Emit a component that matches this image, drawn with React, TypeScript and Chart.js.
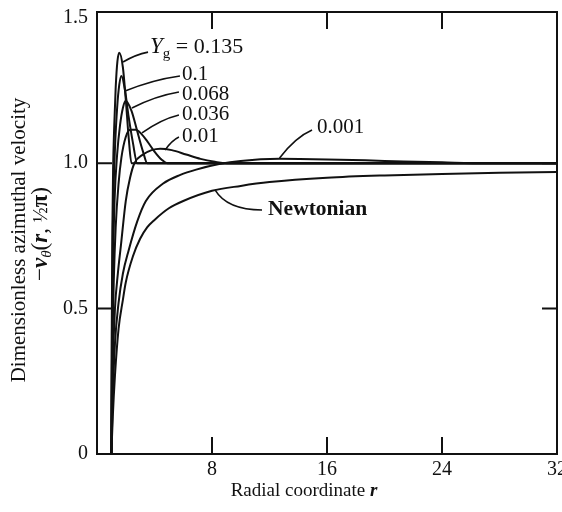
import React, { useEffect, useRef } from "react";
import { Chart, registerables } from "chart.js";

Chart.register(...registerables);

// ---- data ----
const X_TICKS = [8, 16, 24, 32];
const Y_TICKS = [0, 0.5, 1.0, 1.5];

const R_YG_0135 = [1, 1.03, 1.07, 1.12, 1.2, 1.3, 1.42, 1.55, 1.8, 2.0, 2.2, 2.4, 32];
const V_YG_0135 = [0, 0.45, 0.78, 0.98, 1.13, 1.26, 1.35, 1.38, 1.33, 1.22, 1.09, 1.0, 1.0];

const R_YG_01 = [1, 1.04, 1.09, 1.16, 1.25, 1.4, 1.55, 1.7, 1.95, 2.2, 2.5, 2.8, 32];
const V_YG_01 = [0, 0.42, 0.72, 0.92, 1.05, 1.19, 1.27, 1.3, 1.25, 1.16, 1.07, 1.0, 1.0];

const R_YG_0068 = [1, 1.05, 1.12, 1.22, 1.4, 1.6, 1.8, 2.0, 2.4, 2.8, 3.2, 3.5, 32];
const V_YG_0068 = [0, 0.38, 0.66, 0.87, 1.03, 1.13, 1.19, 1.215, 1.18, 1.11, 1.04, 1.0, 1.0];

const R_YG_0036 = [1, 1.07, 1.17, 1.3, 1.5, 1.7, 2.0, 2.3, 2.7, 3.1, 3.5, 4.0, 4.5, 4.9, 32];
const V_YG_0036 = [0, 0.35, 0.6, 0.78, 0.93, 1.02, 1.09, 1.115, 1.115, 1.1, 1.075, 1.04, 1.012, 1.0, 1.0];

const R_YG_001 = [1, 1.1, 1.25, 1.45, 1.67, 2.0, 2.3, 2.6, 3.2, 3.8, 4.4, 5.2, 6.2, 7.2, 8.2, 9, 32];
const V_YG_001 = [0, 0.3, 0.5, 0.62, 0.72, 0.87, 0.95, 1.0, 1.03, 1.045, 1.05, 1.045, 1.03, 1.015, 1.005, 1.0, 1.0];

const R_YG_0001 = [1, 1.1, 1.25, 1.5, 1.8, 2.2, 2.8, 3.4, 4.6, 5.8, 6.9, 8.5, 10, 12.7, 16, 20, 24, 27, 32];
const V_YG_0001 = [0, 0.2, 0.38, 0.52, 0.62, 0.7, 0.8, 0.87, 0.93, 0.96, 0.978, 0.997, 1.008, 1.015, 1.013, 1.008, 1.003, 1.0, 1.0];

const R_NEWTONIAN = [1, 1.1, 1.25, 1.5, 1.8, 2, 2.5, 3, 3.5, 4, 5, 6, 8, 10, 12, 16, 20, 24, 28, 32];
const V_NEWTONIAN = [0, 0.13, 0.27, 0.43, 0.53, 0.59, 0.68, 0.74, 0.78, 0.805, 0.845, 0.87, 0.905, 0.922, 0.935, 0.95, 0.958, 0.963, 0.967, 0.97];

const SERIES_NAMES = ["Yg = 0.135", "0.1", "0.068", "0.036", "0.01", "0.001", "Newtonian"];
const SERIES_R = [R_YG_0135, R_YG_01, R_YG_0068, R_YG_0036, R_YG_001, R_YG_0001, R_NEWTONIAN];
const SERIES_V = [V_YG_0135, V_YG_01, V_YG_0068, V_YG_0036, V_YG_001, V_YG_0001, V_NEWTONIAN];

// label annotations: curve anchor (r, v), leader end (r, v), text position (r, v baseline)
const LABEL_TEXT = ["0.135", "0.1", "0.068", "0.036", "0.01", "0.001", "Newtonian"];
const LABEL_ANCHOR: [number, number][] = [[1.81, 1.348], [1.95, 1.248], [2.43, 1.19], [3.13, 1.104], [4.73, 1.045], [12.7, 1.018], [8.21, 0.908]];
const LABEL_END: [number, number][] = [[3.55, 1.382], [5.77, 1.3], [5.7, 1.245], [5.7, 1.166], [5.7, 1.09], [14.96, 1.114], [11.48, 0.839]];
const LABEL_POS: [number, number][] = [[3.69, 1.379], [5.91, 1.286], [5.91, 1.217], [5.91, 1.149], [5.91, 1.073], [15.3, 1.104], [11.9, 0.822]];

const SERIF = "'Liberation Serif', 'Times New Roman', serif";

type Seg = { t: string; font: string; dy?: number };

function drawSegs(ctx: CanvasRenderingContext2D, segs: Seg[], x: number, y: number, align: "left" | "center") {
  let w = 0;
  for (const s of segs) {
    ctx.font = s.font;
    w += ctx.measureText(s.t).width;
  }
  let cx = align === "center" ? x - w / 2 : x;
  ctx.textAlign = "left";
  ctx.textBaseline = "alphabetic";
  for (const s of segs) {
    ctx.font = s.font;
    ctx.fillText(s.t, cx, y + (s.dy || 0));
    cx += ctx.measureText(s.t).width;
  }
}

const framePlugin = {
  id: "frame",
  afterDraw(chart: any) {
    const { ctx, chartArea, scales } = chart;
    const xs = scales.x;
    const ys = scales.y;
    const { left, right, top, bottom } = chartArea;
    ctx.save();
    ctx.strokeStyle = "#111";
    ctx.fillStyle = "#111";
    ctx.lineWidth = 2;
    ctx.strokeRect(left, top, right - left, bottom - top);

    // inward ticks
    ctx.beginPath();
    for (const v of X_TICKS.slice(0, 3)) {
      const px = xs.getPixelForValue(v);
      ctx.moveTo(px, bottom);
      ctx.lineTo(px, bottom - 17);
      ctx.moveTo(px, top);
      ctx.lineTo(px, top + 17);
    }
    for (const v of Y_TICKS.slice(1, 3)) {
      const py = ys.getPixelForValue(v);
      ctx.moveTo(left, py);
      ctx.lineTo(left + 15, py);
      ctx.moveTo(right, py);
      ctx.lineTo(right - 15, py);
    }
    ctx.stroke();

    // annotations
    ctx.lineWidth = 1.6;
    for (let i = 0; i < LABEL_TEXT.length; i++) {
      const ax = xs.getPixelForValue(LABEL_ANCHOR[i][0]);
      const ay = ys.getPixelForValue(LABEL_ANCHOR[i][1]);
      const ex = xs.getPixelForValue(LABEL_END[i][0]);
      const ey = ys.getPixelForValue(LABEL_END[i][1]);
      ctx.beginPath();
      ctx.moveTo(ax, ay);
      if (i === 6) {
        ctx.quadraticCurveTo(ax + 12, ey, ex, ey);
      } else {
        ctx.quadraticCurveTo((ax + ex) / 2, ey + (ay - ey) * 0.25, ex, ey);
      }
      ctx.stroke();
      const tx = xs.getPixelForValue(LABEL_POS[i][0]);
      const ty = ys.getPixelForValue(LABEL_POS[i][1]);
      if (i === 0) {
        drawSegs(ctx, [
          { t: "Y", font: `italic 23px ${SERIF}` },
          { t: "g", font: `15px ${SERIF}`, dy: 5 },
          { t: " = 0.135", font: `22px ${SERIF}` },
        ], tx, ty, "left");
      } else if (i === 6) {
        drawSegs(ctx, [{ t: LABEL_TEXT[i], font: `bold 21.5px ${SERIF}` }], tx, ty, "left");
      } else {
        drawSegs(ctx, [{ t: LABEL_TEXT[i], font: `21px ${SERIF}` }], tx, ty, "left");
      }
    }

    // x title
    drawSegs(ctx, [
      { t: "Radial coordinate ", font: `19px ${SERIF}` },
      { t: "r", font: `italic bold 19px ${SERIF}` },
    ], (left + right) / 2 - 23, 496, "center");

    // y title (rotated)
    ctx.save();
    ctx.translate(25, 240);
    ctx.rotate(-Math.PI / 2);
    drawSegs(ctx, [{ t: "Dimensionless azimuthal velocity", font: `21px ${SERIF}` }], 0, 0, "center");
    ctx.restore();
    ctx.save();
    ctx.translate(47, 234);
    ctx.rotate(-Math.PI / 2);
    drawSegs(ctx, [
      { t: "\u2212", font: `23px ${SERIF}` },
      { t: "v", font: `italic bold 23px ${SERIF}` },
      { t: "\u03b8", font: `italic 15px ${SERIF}`, dy: 4 },
      { t: "(", font: `23px ${SERIF}` },
      { t: "r", font: `italic bold 23px ${SERIF}` },
      { t: ", ", font: `23px ${SERIF}` },
      { t: "\u00bd", font: `20px ${SERIF}` },
      { t: "\u03c0", font: `bold 23px ${SERIF}` },
      { t: ")", font: `23px ${SERIF}` },
    ], 0, 0, "center");
    ctx.restore();

    ctx.restore();
  },
};

export default function App() {
  const ref = useRef<HTMLCanvasElement | null>(null);

  useEffect(() => {
    document.body.style.margin = "0";
    document.body.style.background = "#fff";
    if (!ref.current) return;
    const datasets = SERIES_NAMES.map((name, i) => ({
      label: name,
      data: SERIES_R[i].map((r, j) => ({ x: r, y: SERIES_V[i][j] })),
      borderColor: "#111",
      borderWidth: 2,
      pointRadius: 0,
      fill: false,
      showLine: true,
      cubicInterpolationMode: "monotone" as const,
    }));
    const chart = new Chart(ref.current, {
      type: "scatter",
      data: { datasets },
      options: {
        animation: false,
        responsive: false,
        devicePixelRatio: 1,
        layout: { padding: { top: 12, right: 5, bottom: 0, left: 0 } },
        plugins: { legend: { display: false }, tooltip: { enabled: false } },
        scales: {
          x: {
            type: "linear",
            min: 0,
            max: 32,
            grid: { display: false, drawTicks: false },
            border: { display: false },
            afterBuildTicks: (s: any) => {
              s.ticks = X_TICKS.map((v) => ({ value: v }));
            },
            afterFit: (s: any) => {
              s.height = 58;
              s.paddingLeft = 0;
              s.paddingRight = 0;
            },
            ticks: {
              padding: 4,
              color: "#111",
              font: { family: SERIF, size: 20 },
              maxRotation: 0,
              autoSkip: false,
              callback: (v: any) => String(v),
            },
          },
          y: {
            type: "linear",
            min: 0,
            max: 1.52,
            grid: { display: false, drawTicks: false },
            border: { display: false },
            afterBuildTicks: (s: any) => {
              s.ticks = Y_TICKS.map((v) => ({ value: v }));
            },
            afterFit: (s: any) => {
              s.width = 97;
              s.paddingTop = 0;
              s.paddingBottom = 0;
            },
            ticks: {
              padding: 9,
              color: "#111",
              font: { family: SERIF, size: 20 },
              autoSkip: false,
              callback: (v: any) => (v === 0 ? "0" : Number(v).toFixed(1)),
            },
          },
        },
      },
      plugins: [framePlugin],
    });
    return () => chart.destroy();
  }, []);

  return (
    <div style={{ position: "absolute", left: 0, top: 0, width: 562, height: 512, background: "#fff" }}>
      <canvas ref={ref} width={562} height={512} />
    </div>
  );
}
